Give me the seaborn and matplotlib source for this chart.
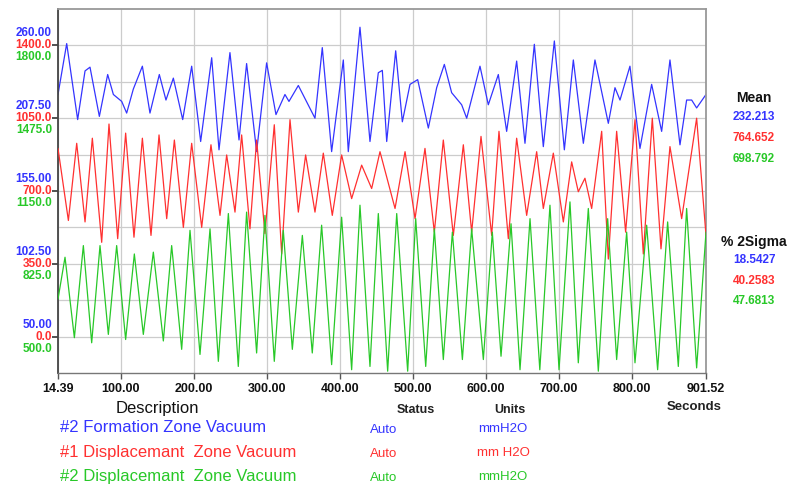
import matplotlib
matplotlib.use("Agg")
import matplotlib.pyplot as plt
import seaborn as sns
import pandas as pd

# ---------------- data ----------------
blue_t = [14.39, 26.3, 41.3, 51.4, 58.2, 71.0, 82.4, 90.2, 101.6, 108.4,
          117.5, 129.9, 140.3, 153.1, 162.2, 172.3, 185.1, 197.4, 209.7, 224.8,
          234.8, 249.8, 262.2, 272.6, 286.3, 300.0, 312.8, 325.1, 330.6, 343.4,
          366.2, 376.2, 389.0, 405.0, 411.8, 427.8, 441.5, 452.9, 458.4, 464.4,
          476.7, 485.8, 496.3, 506.8, 521.4, 532.8, 543.3, 553.3, 567.0, 573.9,
          592.1, 603.5, 617.2, 628.6, 642.3, 653.7, 666.5, 678.8, 693.9, 707.6,
          719.9, 733.6, 749.5, 767.8, 776.9, 783.8, 797.4, 811.1, 827.1, 840.8,
          852.2, 865.9, 875.0, 881.9, 888.7, 901.52]
blue_v = [224.6, 261.3, 206.5, 241.6, 244.3, 208.8, 239.0, 224.6, 219.6, 211.2,
          228.5, 245.0, 211.2, 239.0, 220.6, 236.4, 206.5, 245.0, 190.7, 251.1,
          184.7, 254.8, 191.8, 246.9, 183.4, 247.4, 210.1, 224.6, 219.6, 231.1,
          207.5, 258.4, 183.4, 249.5, 183.4, 273.1, 190.7, 240.3, 242.0, 190.7,
          256.1, 204.9, 231.9, 235.3, 200.4, 229.5, 246.3, 225.9, 217.2, 207.5,
          245.0, 217.2, 239.0, 198.0, 248.7, 189.4, 260.8, 187.0, 263.2, 184.7,
          249.5, 189.4, 249.5, 203.8, 229.5, 220.6, 245.0, 185.7, 231.9, 198.0,
          249.5, 188.3, 220.6, 220.6, 214.9, 224.6]

red_t = [14.39, 28.6, 40.0, 51.4, 61.4, 74.2, 84.2, 96.1, 107.0, 118.4,
         129.9, 141.7, 152.7, 163.2, 173.7, 186.0, 197.4, 211.1, 223.8, 236.2,
         245.3, 256.7, 265.8, 277.2, 286.3, 297.7, 310.5, 320.6, 332.0, 343.4,
         353.4, 366.2, 377.6, 389.9, 402.7, 416.4, 430.1, 443.8, 455.2, 475.8,
         489.5, 503.2, 516.8, 529.6, 541.9, 555.6, 569.3, 580.7, 593.5, 608.1,
         618.1, 630.9, 642.3, 656.0, 669.7, 678.8, 692.5, 706.2, 717.6, 726.7,
         735.8, 745.0, 758.7, 767.8, 779.2, 791.5, 804.3, 815.7, 828.0, 839.9,
         852.2, 868.2, 888.7, 901.52]
red_v = [904.8, 558.3, 929.3, 551.3, 953.8, 453.3, 1022.0, 470.8, 978.3, 477.8,
         953.8, 486.5, 969.5, 567.0, 945.0, 525.0, 929.3, 525.0, 922.3, 582.8,
         873.3, 598.5, 969.5, 518.0, 945.0, 495.3, 1018.5, 397.3, 1043.0, 598.5,
         873.3, 598.5, 882.0, 582.8, 873.3, 663.3, 824.3, 712.0, 889.0, 616.0,
         889.0, 567.0, 904.8, 502.3, 945.0, 486.5, 922.3, 502.3, 962.5, 486.5,
         987.0, 470.8, 953.8, 582.8, 889.0, 616.0, 882.0, 551.3, 840.0, 696.5,
         761.3, 616.0, 987.0, 372.8, 987.0, 502.3, 1043.0, 397.3, 1050.0, 421.8,
         913.5, 567.0, 1050.0, 486.5]

green_t = [14.39, 24.0, 36.8, 49.1, 60.5, 71.9, 83.3, 94.7, 107.0, 118.9,
           131.2, 144.9, 158.6, 170.0, 183.7, 195.1, 208.8, 222.5, 233.9, 247.6,
           261.2, 272.6, 286.3, 297.7, 310.5, 322.8, 335.2, 348.9, 362.5, 375.3,
           389.0, 402.7, 416.4, 427.8, 441.5, 452.9, 465.7, 478.1, 493.1, 504.1,
           517.8, 529.6, 541.9, 554.3, 568.0, 580.7, 596.7, 609.0, 620.9, 634.6,
           646.9, 660.6, 674.0, 687.9, 700.3, 715.3, 726.7, 740.4, 754.1, 766.9,
           779.2, 792.9, 804.3, 820.3, 835.3, 849.0, 863.6, 875.0, 888.7, 901.52]
green_v = [667.4, 854.3, 495.1, 906.3, 472.4, 906.3, 509.8, 906.3, 487.0, 868.9,
           509.8, 877.0, 480.5, 906.3, 443.1, 974.5, 420.4, 981.0, 389.5, 1049.3,
           366.8, 1055.8, 426.9, 1041.1, 389.5, 974.5, 443.1, 951.8, 426.9, 997.3,
           374.9, 1033.0, 352.1, 1086.6, 366.8, 1049.3, 345.6, 1049.3, 345.6, 1026.5,
           366.8, 981.0, 397.6, 966.4, 397.6, 981.0, 397.6, 966.4, 412.3, 1003.8,
           352.1, 1026.5, 352.0, 1086.6, 352.1, 1101.3, 383.0, 1072.0, 345.6, 1026.5,
           397.6, 966.4, 383.0, 997.3, 352.1, 1011.9, 366.8, 1072.0, 360.3, 966.4]

series_names = ["#2 Formation Zone Vacuum", "#1 Displacemant  Zone Vacuum",
                "#2 Displacemant  Zone Vacuum"]
series_status = ["Auto", "Auto", "Auto"]
series_units = ["mmH2O", "mm H2O", "mmH2O"]
series_means = ["232.213", "764.652", "698.792"]
series_sigmas = ["18.5427", "40.2583", "47.6813"]

blue_ticks = [50.0, 102.5, 155.0, 207.5, 260.0]
red_ticks = [0.0, 350.0, 700.0, 1050.0, 1400.0]
green_ticks = [500.0, 825.0, 1150.0, 1475.0, 1800.0]
x_ticks = [14.39, 100, 200, 300, 400, 500, 600, 700, 800, 901.52]

# ---------------- style ----------------
sns.set_style("white")
plt.rcParams['font.family'] = ['Liberation Sans', 'DejaVu Sans']

BLUE, RED, GREEN = "#3434ff", "#ff3030", "#28c828"
colors = [BLUE, RED, GREEN]

W, H = 792, 487
fig = plt.figure(figsize=(W / 100, H / 100), dpi=100)
L, R, B, T = 58, 706, 373, 9
ax = fig.add_axes([L / W, 1 - B / H, (R - L) / W, (B - T) / H])
axr = ax.twinx()
axg = ax.twinx()


def lims(ticks):
    step = ticks[1] - ticks[0]
    return ticks[0] - step / 2, ticks[-1] + step / 2


ax.set_ylim(*lims(blue_ticks))
axr.set_ylim(*lims(red_ticks))
axg.set_ylim(*lims(green_ticks))
ax.set_xlim(x_ticks[0], x_ticks[-1])

df_b = pd.DataFrame({"t": blue_t, "v": blue_v})
df_r = pd.DataFrame({"t": red_t, "v": red_v})
df_g = pd.DataFrame({"t": green_t, "v": green_v})
sns.lineplot(data=df_b, x="t", y="v", ax=ax, color=BLUE, lw=0.9,
             estimator=None, sort=False)
sns.lineplot(data=df_r, x="t", y="v", ax=axr, color=RED, lw=0.9,
             estimator=None, sort=False)
sns.lineplot(data=df_g, x="t", y="v", ax=axg, color=GREEN, lw=0.9,
             estimator=None, sort=False)

for a in (ax, axr, axg):
    a.set_xlabel("")
    a.set_ylabel("")

for a in (axr, axg):
    a.set_yticks([])
    for s in a.spines.values():
        s.set_visible(False)

# grid
step = blue_ticks[1] - blue_ticks[0]
minor = [v + step / 2 for v in blue_ticks[:-1]]
ax.set_yticks(blue_ticks)
ax.set_yticks(minor, minor=True)
ax.set_yticklabels([])
ax.set_xticks(x_ticks)
ax.set_xticklabels([f"{v:.2f}" for v in x_ticks], fontsize=9,
                   fontweight="bold", color="#111111")
ax.tick_params(axis="y", which="major", length=4, width=1.2, color="#333333",
               left=True, direction="out")
ax.tick_params(axis="y", which="minor", length=0)
ax.tick_params(axis="x", which="major", length=4, width=1, color="#555555",
               bottom=True, direction="out", pad=3)
ax.yaxis.grid(True, which="both", color="#cccccc", lw=0.9)
ax.xaxis.grid(True, which="major", color="#cccccc", lw=0.9)
ax.set_axisbelow(True)

ax.spines["left"].set_color("#444444")
ax.spines["left"].set_linewidth(1.3)
ax.spines["bottom"].set_color("#777777")
ax.spines["bottom"].set_linewidth(1.0)
ax.spines["top"].set_color("#999999")
ax.spines["top"].set_linewidth(1.3)
ax.spines["right"].set_color("#999999")
ax.spines["right"].set_linewidth(1.3)

# stacked y labels
lab_kw = dict(xycoords=("axes fraction", "data"), textcoords="offset pixels",
              ha="right", va="center", fontsize=8.5, fontweight="bold",
              annotation_clip=False)
for v in blue_ticks:
    ax.annotate(f"{v:.2f}", xy=(0, v), xytext=(-6, 12), color=BLUE, **lab_kw)
for v in red_ticks:
    axr.annotate(f"{v:.1f}", xy=(0, v), xytext=(-6, 0), color=RED, **lab_kw)
for v in green_ticks:
    axg.annotate(f"{v:.1f}", xy=(0, v), xytext=(-6, -12), color=GREEN, **lab_kw)


def ft(x, y, s, **kw):
    fig.text(x / W, 1 - y / H, s, **kw)


# right-side statistics
ft(754, 98, "Mean", ha="center", va="center", fontsize=10, fontweight="bold",
   color="#111111")
for i, (m, c) in enumerate(zip(series_means, colors)):
    ft(754, 117 + i * 21, m, ha="center", va="center", fontsize=8.5,
       fontweight="bold", color=c)
ft(754, 242, "% 2Sigma", ha="center", va="center", fontsize=10,
   fontweight="bold", color="#111111")
for i, (s, c) in enumerate(zip(series_sigmas, colors)):
    ft(754, 260 + i * 20.5, s, ha="center", va="center", fontsize=8.5,
       fontweight="bold", color=c)

# bottom description table
ft(157, 408, "Description", ha="center", va="center", fontsize=12,
   color="#111111")
ft(416, 410, "Status", ha="center", va="center", fontsize=9,
   fontweight="bold", color="#222222")
ft(510, 410, "Units", ha="center", va="center", fontsize=9,
   fontweight="bold", color="#222222")
ft(694, 407, "Seconds", ha="center", va="center", fontsize=9.5,
   fontweight="bold", color="#222222")
for i in range(3):
    y = 428 + i * 24
    ft(60, y, series_names[i], ha="left", va="center", fontsize=12,
       color=colors[i])
    ft(384, y + 2, series_status[i], ha="center", va="center", fontsize=9.5,
       color=colors[i])
    ft(503, y + 1, series_units[i], ha="center", va="center", fontsize=9.5,
       color=colors[i])

fig.savefig("out.png", dpi=100)
